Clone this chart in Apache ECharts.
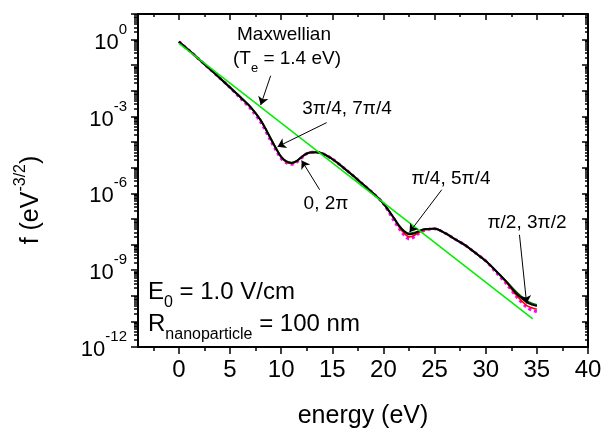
<!DOCTYPE html>
<html>
<head>
<meta charset="utf-8">
<script src="https://cdn.jsdelivr.net/npm/echarts@6/dist/echarts.min.js"></script>
<style>
html, body { margin: 0; padding: 0; background: #fff; }
#chart { width: 606px; height: 429px; }
</style>
</head>
<body>
<div id="chart"></div>
<script>
var FONT = 'Liberation Sans, Arial, sans-serif';

// energy grid (eV) shared by the four computed curves
var energy = [0, 1, 2, 3, 4, 5, 6, 7, 8, 9,
  9.5, 10, 10.5, 11, 11.5, 12, 12.5, 13, 13.5, 14,
  15, 16, 17, 18, 19, 20, 21, 21.5, 22, 22.5,
  23, 23.5, 24, 25, 26, 27, 28, 29, 30, 31,
  32, 33, 34, 34.5, 35];

// f (eV^-3/2)
var fBlack = [8.32e-1, 3.80e-1, 1.66e-1, 7.24e-2, 3.16e-2, 1.35e-2, 5.75e-3, 2.34e-3, 7.08e-4, 1.32e-4,
  5.62e-5, 2.63e-5, 1.78e-5, 1.55e-5, 1.82e-5, 2.63e-5, 3.55e-5, 3.98e-5, 3.98e-5, 3.63e-5,
  2.19e-5, 1.07e-5, 5.01e-6, 2.24e-6, 1.00e-6, 3.98e-7, 1.12e-7, 5.62e-8, 3.39e-8, 2.51e-8,
  2.69e-8, 3.39e-8, 3.98e-8, 4.17e-8, 2.82e-8, 1.62e-8, 9.33e-9, 4.68e-9, 2.29e-9, 9.33e-10,
  3.63e-10, 1.20e-10, 5.62e-11, 4.47e-11, 3.98e-11];

var fRed = [8.32e-1, 3.80e-1, 1.66e-1, 7.24e-2, 3.16e-2, 1.35e-2, 5.75e-3, 2.34e-3, 7.08e-4, 1.32e-4,
  5.62e-5, 2.63e-5, 1.66e-5, 1.45e-5, 1.74e-5, 2.63e-5, 3.55e-5, 3.98e-5, 3.98e-5, 3.63e-5,
  2.19e-5, 1.07e-5, 5.01e-6, 2.24e-6, 1.00e-6, 3.98e-7, 1.12e-7, 5.01e-8, 2.82e-8, 2.00e-8,
  2.24e-8, 3.02e-8, 3.72e-8, 4.17e-8, 2.82e-8, 1.62e-8, 9.33e-9, 4.68e-9, 2.29e-9, 9.33e-10,
  3.39e-10, 1.05e-10, 4.17e-11, 3.39e-11, 2.95e-11];

var fMagenta = [8.32e-1, 3.80e-1, 1.66e-1, 7.24e-2, 3.16e-2, 1.35e-2, 5.25e-3, 2.04e-3, 6.03e-4, 1.10e-4,
  4.79e-5, 2.29e-5, 1.58e-5, 1.35e-5, 1.62e-5, 2.40e-5, 3.55e-5, 3.98e-5, 3.98e-5, 3.63e-5,
  2.19e-5, 1.07e-5, 5.01e-6, 2.24e-6, 1.00e-6, 3.98e-7, 8.91e-8, 4.47e-8, 2.40e-8, 1.66e-8,
  2.00e-8, 2.82e-8, 3.55e-8, 4.17e-8, 2.82e-8, 1.62e-8, 9.33e-9, 4.68e-9, 2.29e-9, 8.32e-10,
  3.02e-10, 9.33e-11, 3.55e-11, 2.75e-11, 2.40e-11];

var fDarkGreen = [8.32e-1, 3.80e-1, 1.66e-1, 7.24e-2, 3.16e-2, 1.35e-2, 5.75e-3, 2.34e-3, 7.08e-4, 1.32e-4,
  5.62e-5, 2.63e-5, 1.78e-5, 1.55e-5, 1.82e-5, 2.63e-5, 3.55e-5, 3.98e-5, 3.98e-5, 3.63e-5,
  2.19e-5, 1.07e-5, 5.01e-6, 2.24e-6, 1.00e-6, 3.98e-7, 1.12e-7, 5.62e-8, 3.39e-8, 2.69e-8,
  2.88e-8, 3.39e-8, 3.98e-8, 4.17e-8, 2.82e-8, 1.62e-8, 9.33e-9, 4.68e-9, 2.29e-9, 9.33e-10,
  3.63e-10, 1.38e-10, 6.31e-11, 5.01e-11, 4.37e-11];

// Maxwellian (Te = 1.4 eV) straight line on the log plot
var maxwellE = [0, 34.6];
var maxwellF = [7.08e-1, 1.26e-11];

// ticks
var xMajor = [0, 5, 10, 15, 20, 25, 30, 35, 40];
var xMinor = [-2.5, 2.5, 7.5, 12.5, 17.5, 22.5, 27.5, 32.5, 37.5];
var yDecades = [1e-12, 1e-11, 1e-10, 1e-9, 1e-8, 1e-7, 1e-6, 1e-5, 1e-4, 1e-3, 1e-2, 1e-1, 1, 10];
var yLabels = [1e-12, 1e-9, 1e-6, 1e-3, 1];
var yMinor = [];
for (var d = 0; d < yDecades.length - 1; d++) {
  for (var k = 2; k <= 9; k++) yMinor.push(k * yDecades[d]);
}

// arrows: [fromE, fromF, toE, toF]
var arrows = [
  [8.97, 3.89e-2, 8.0, 2.82e-3],
  [14.45, 5.75e-4, 9.65, 6.61e-5],
  [13.76, 1.38e-6, 12.0, 1.91e-5],
  [25.7, 1.38e-6, 22.55, 3.02e-8],
  [33.3, 2.40e-8, 34.0, 5.01e-11]
];

function pairs(xs, ys) {
  return xs.map(function (x, i) { return [x, ys[i]]; });
}

var chart = echarts.init(document.getElementById('chart'));

var frameLine = { show: true, onZero: false, lineStyle: { color: '#000', width: 2 } };
var noLine = { show: false, onZero: false };
var tickStyle = { color: '#000', width: 1.5 };

function xAx(grid, pos, ticks, len, inside, showLabel) {
  return {
    gridIndex: grid, type: 'value', position: pos, min: -4, max: 40,
    axisLine: grid === 0 ? frameLine : noLine,
    axisTick: { show: true, customValues: ticks, length: len, inside: inside, lineStyle: tickStyle },
    axisLabel: showLabel ? {
      show: true, customValues: xMajor, fontSize: 24, fontFamily: FONT, color: '#000', margin: 11
    } : { show: false },
    splitLine: { show: false }
  };
}

function yAx(grid, pos, ticks, len, inside, showLabel) {
  return {
    gridIndex: grid, type: 'log', logBase: 10, position: pos, min: 1e-12, max: 10,
    axisLine: grid === 0 ? frameLine : noLine,
    axisTick: { show: true, customValues: ticks, length: len, inside: inside, lineStyle: tickStyle },
    axisLabel: showLabel ? {
      show: true, customValues: yLabels, margin: 11,
      formatter: function (v) {
        return '{b|10}{s|' + Math.round(Math.log10(v)) + '}';
      },
      rich: {
        b: { fontSize: 22, fontFamily: FONT, color: '#000', lineHeight: 22, verticalAlign: 'middle', padding: [6, 0, 0, 0] },
        s: { fontSize: 15, fontFamily: FONT, color: '#000', lineHeight: 15, verticalAlign: 'middle', padding: [0, 0, 20, 0] }
      }
    } : { show: false },
    splitLine: { show: false }
  };
}

var gridBox = { left: 138, right: 18, top: 14, bottom: 82, outerBoundsMode: 'none' };

function txt(x, y, text, size, align, rich) {
  return {
    type: 'text', x: x, y: y, silent: true,
    style: {
      text: text, fontSize: size, fontFamily: FONT, fill: '#000',
      align: align || 'center', verticalAlign: 'middle', rich: rich || {}
    }
  };
}

var subSmall = { sub: { fontSize: 13, fontFamily: FONT, fill: '#000', verticalAlign: 'middle', padding: [18, 0, 0, 0] } };
var subBig = { sub: { fontSize: 16, fontFamily: FONT, fill: '#000', verticalAlign: 'middle', padding: [22, 0, 0, 0] } };

var option = {
  backgroundColor: '#fff',
  animation: false,
  grid: [Object.assign({}, gridBox), Object.assign({}, gridBox)],
  xAxis: [
    xAx(0, 'bottom', xMajor, 7, false, true),
    xAx(0, 'top', xMajor, 6, true, false),
    xAx(1, 'bottom', xMinor, 4, false, false),
    xAx(1, 'top', xMinor, 3, true, false)
  ],
  yAxis: [
    yAx(0, 'left', yDecades, 7, false, true),
    yAx(0, 'right', yDecades, 6, true, false),
    yAx(1, 'left', yMinor, 4, false, false),
    yAx(1, 'right', yMinor, 3, true, false)
  ],
  series: [
    {
      name: 'magenta', type: 'line', xAxisIndex: 0, yAxisIndex: 0,
      showSymbol: false, smooth: 0.3, data: pairs(energy, fMagenta),
      lineStyle: { color: '#ff00ff', width: 3, type: 'dotted' }
    },
    {
      name: 'red', type: 'line', xAxisIndex: 0, yAxisIndex: 0,
      showSymbol: false, smooth: 0.3, data: pairs(energy, fRed),
      lineStyle: { color: '#ff0000', width: 1.6 }
    },
    {
      name: 'darkgreen', type: 'line', xAxisIndex: 0, yAxisIndex: 0,
      showSymbol: false, smooth: 0.3, data: pairs(energy, fDarkGreen),
      lineStyle: { color: '#005a00', width: 2 }
    },
    {
      name: 'black', type: 'line', xAxisIndex: 0, yAxisIndex: 0,
      showSymbol: false, smooth: 0.3, data: pairs(energy, fBlack),
      lineStyle: { color: '#000', width: 1.8 },
      markLine: {
        silent: true, symbol: ['none', 'arrow'], symbolSize: 8,
        label: { show: false },
        lineStyle: { color: '#000', width: 1, type: 'solid' },
        data: arrows.map(function (a) {
          return [{ coord: [a[0], a[1]] }, { coord: [a[2], a[3]] }];
        })
      }
    },
    {
      name: 'Maxwellian', type: 'line', xAxisIndex: 0, yAxisIndex: 0,
      showSymbol: false, data: pairs(maxwellE, maxwellF),
      lineStyle: { color: '#00ee00', width: 1.5 }
    }
  ],
  graphic: [
    txt(284, 35, 'Maxwellian', 19),
    txt(287, 59, '(T{sub|e} = 1.4 eV)', 19, 'center', subSmall),
    txt(347, 109, '3π/4, 7π/4', 19),
    txt(326, 204, '0, 2π', 19),
    txt(451, 179, 'π/4, 5π/4', 19),
    txt(527, 223, 'π/2, 3π/2', 19),
    txt(148, 292, 'E{sub|0} = 1.0 V/cm', 24, 'left', subBig),
    txt(148, 324, 'R{sub|nanoparticle} = 100 nm', 24, 'left', subBig),
    txt(363, 416, 'energy (eV)', 25),
    {
      type: 'text', x: 31, y: 200, rotation: Math.PI / 2, silent: true,
      style: {
        text: 'f (eV{sup|-3/2})', fontSize: 25, fontFamily: FONT, fill: '#000',
        align: 'center', verticalAlign: 'middle',
        rich: { sup: { fontSize: 16, fontFamily: FONT, fill: '#000', verticalAlign: 'middle', padding: [0, 0, 20, 0] } }
      }
    }
  ]
};

chart.setOption(option);
</script>
</body>
</html>
